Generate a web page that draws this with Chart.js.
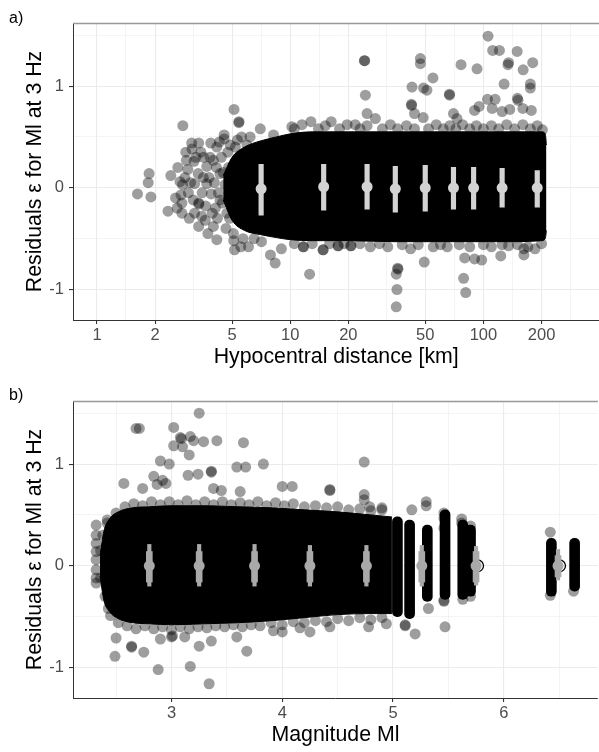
<!DOCTYPE html>
<html>
<head>
<meta charset="utf-8">
<script src="https://cdn.jsdelivr.net/npm/chart.js@4.4.1/dist/chart.umd.min.js"></script>
<style>
  body { margin: 0; background: #fff; font-family: "Liberation Sans", Arial, sans-serif; }
  #wrap { position: relative; width: 599px; height: 752px; overflow: hidden; }
  canvas { position: absolute; left: 0; }
  .tag { position: absolute; left: 9px; font-size: 16px; line-height: 1; color: #000; }
</style>
</head>
<body>
<div id="wrap">
  <canvas id="distChart" width="605" height="374" style="top:0"></canvas>
  <canvas id="magChart" width="605" height="374" style="top:378px"></canvas>
  <div class="tag" style="top:10px">a)</div>
  <div class="tag" style="top:387px">b)</div>
</div>
<script>
// residual axis (shared)
const resTicks = [-1, 0, 1];
const resMinor = [-0.5, 0.5, 1.5];

// ---- panel a: hypocentral distance [km] ----
const distTicks = [1, 2, 5, 10, 20, 50, 100, 200];
const distMinor = [1.41, 3.16, 7.07, 14.1, 31.6, 70.7, 141, 283];

// dense core of the cloud (upper / lower edge)
const distCloudX  = [4.5, 5.0, 5.8, 7.0, 8.5, 10, 13, 20, 35, 60, 100, 150, 200, 209, 212];
const distCloudHi = [0.12, 0.3, 0.4, 0.46, 0.5, 0.53, 0.55, 0.55, 0.55, 0.55, 0.55, 0.55, 0.55, 0.53, 0.42];
const distCloudLo = [-0.12, -0.32, -0.42, -0.46, -0.49, -0.51, -0.52, -0.52, -0.53, -0.53, -0.53, -0.53, -0.52, -0.5, -0.42];

// single records around the core
const distPoints = [
  [1.62, -0.06], [1.86, 0.14], [1.84, 0.05], [1.90, -0.09], [2.41, 0.12], [2.33, -0.23], [2.78, 0.61],
  [3.09, 0.44], [3.36, 0.44], [3.88, 0.44], [4.17, 0.40], [4.55, 0.52], [4.55, 0.48], [4.89, 0.42],
  [5.33, 0.47], [5.97, 0.42], [2.88, 0.35], [3.18, 0.26], [2.90, 0.27], [3.56, 0.30], [3.70, 0.21],
  [3.34, 0.14], [2.69, 0.06], [2.77, 0.03], [2.97, -0.05], [2.72, -0.07], [2.75, -0.15], [3.15, -0.12],
  [3.36, -0.15], [3.37, -0.16], [3.20, -0.25], [2.75, -0.25], [3.63, -0.32], [3.36, -0.38], [4.00, -0.38],
  [4.17, -0.51], [5.08, -0.45], [5.55, -0.58], [6.08, -0.58], [5.15, -0.61], [3.90, -0.06], [4.33, 0.14],
  [4.00, 0.27], [4.33, -0.12], [4.70, -0.25], [3.70, 0.04], [3.20, 0.04], [4.60, 0.03], [5.08, -0.09],
  [2.60, -0.20], [2.95, 0.18], [3.50, -0.05], [3.80, 0.10], [4.10, -0.20], [4.40, 0.30], [4.20, -0.30],
  [3.00, -0.30], [3.45, 0.35], [4.80, 0.20], [4.90, -0.15], [2.85, 0.10],
  [3.05, 0.05], [3.25, 0.30], [3.55, 0.10], [3.65, -0.18], [3.85, 0.30], [3.95, -0.25], [4.05, 0.05],
  [4.15, 0.20], [4.25, -0.05], [4.45, -0.15], [4.50, 0.15], [4.65, -0.40], [4.75, 0.35], [4.85, -0.30],
  [3.48, -0.28], [3.10, 0.38], [2.62, 0.20], [2.55, -0.10], [3.75, -0.45], [4.30, 0.45], [5.20, 0.40],
  [5.10, -0.52], [5.60, 0.50], [5.70, -0.50],
  [5.12, 0.77], [5.42, 0.64], [5.43, 0.65], [7.0, 0.58], [10.2, 0.60], [8.2, 0.52], [6.2, 0.50],
  [8.36, -0.74], [7.9, -0.66], [9.0, -0.60], [7.1, -0.53], [6.5, -0.50], [12.6, -0.85],
  [105.7, 1.49], [111.7, 1.35], [121, 1.35], [149.5, 1.34], [135, 1.23], [134, 1.21], [160.6, 1.16],
  [180, 1.23], [92.7, 1.17], [76.6, 1.21], [47.2, 1.27], [47.2, 1.22], [24.2, 1.25], [24.3, 1.25],
  [54.8, 1.08], [42.7, 0.99], [49, 0.98], [51, 0.96], [66.7, 0.92], [66.8, 0.91], [24.5, 0.91],
  [25, 0.73], [42.4, 0.82], [42.5, 0.81], [44, 0.73], [105, 0.87], [115, 0.87], [111, 0.78],
  [128, 1.02], [150, 0.88], [151, 0.86], [175, 1.02], [175, 0.98], [95, 0.80], [90, 0.76],
  [125, 0.75], [137, 0.77], [160, 0.78], [177, 0.76], [70, 0.73], [73, 0.68],
  [35.4, -0.85], [35.7, -1.0], [35.4, -1.17], [36, -0.79], [36.1, -0.80], [49.4, -0.73], [79, -0.89],
  [81, -1.03], [90, -0.70], [98, -0.71], [123, -0.67], [80, -0.69], [162, -0.60], [162, -0.66],
  [11.7, -0.58], [14.8, -0.61], [17.7, -0.57], [20.6, -0.57]
];
const distEdge = [
  [10.5, 0.58], [11.5, 0.62], [12.8, 0.65], [14, 0.58], [15.2, 0.61], [16.3, 0.65], [18, 0.58],
  [19.7, 0.62], [21.7, 0.62], [23, 0.58], [25, 0.61], [27.6, 0.68], [30, 0.58], [33, 0.62], [36, 0.58],
  [40, 0.61], [44, 0.58], [48.8, 0.69], [52, 0.58], [57, 0.62], [62, 0.58], [67, 0.61], [72, 0.58],
  [78, 0.62], [85, 0.58], [92, 0.61], [100, 0.58], [110, 0.61], [120, 0.58], [132, 0.62], [145, 0.58],
  [160, 0.62], [175, 0.58], [190, 0.61], [202, 0.57],
  [10.5, -0.55], [11.7, -0.58], [13, -0.55], [14.8, -0.61], [16, -0.55], [17.7, -0.57], [19, -0.55],
  [20.6, -0.57], [23, -0.55], [26, -0.58], [29, -0.55], [32, -0.58], [38, -0.56], [42, -0.60],
  [46, -0.56], [55, -0.58], [60, -0.56], [65, -0.58], [75, -0.56], [85, -0.58], [100, -0.56],
  [110, -0.58], [125, -0.56], [135, -0.57], [150, -0.56], [170, -0.58], [185, -0.60], [200, -0.55]
];

// binned median and interval
const distBinX   = [7.07, 14.9, 25, 35, 50, 70, 89, 125, 190];
const distBinMed = [-0.01, 0.01, 0.01, -0.01, 0, 0, 0, 0, 0];
const distBinLo  = [-0.27, -0.22, -0.21, -0.24, -0.23, -0.21, -0.21, -0.19, -0.19];
const distBinHi  = [0.23, 0.23, 0.23, 0.21, 0.22, 0.20, 0.20, 0.19, 0.17];

// ---- panel b: magnitude Ml ----
const magTicks = [3, 4, 5, 6];
const magMinor = [2.5, 3.5, 4.5, 5.5, 6.5];

const magCloudX  = [2.355, 2.39, 2.44, 2.52, 2.65, 2.8, 3.0, 3.3, 3.6, 3.9, 4.2, 4.5, 4.8, 4.99];
const magCloudHi = [0.1, 0.34, 0.46, 0.53, 0.57, 0.58, 0.59, 0.59, 0.58, 0.57, 0.55, 0.53, 0.5, 0.48];
const magCloudLo = [-0.1, -0.34, -0.45, -0.52, -0.56, -0.57, -0.58, -0.57, -0.56, -0.54, -0.51, -0.48, -0.47, -0.47];

// magnitude columns above 5
const magColX  = [5.04, 5.15, 5.31, 5.47, 5.63, 5.70, 6.43, 6.64];
const magColLo = [-0.50, -0.52, -0.35, -0.33, -0.33, -0.30, -0.30, -0.25];
const magColHi = [0.48, 0.45, 0.40, 0.55, 0.45, 0.40, 0.27, 0.27];

const magPoints = [
  [3.25, 1.50], [2.68, 1.35], [2.71, 1.35], [3.02, 1.36], [3.08, 1.26], [3.09, 1.25], [3.17, 1.27],
  [3.20, 1.23], [3.29, 1.22], [3.41, 1.23], [3.02, 1.18], [3.10, 1.17], [3.16, 1.09], [3.65, 1.21],
  [2.90, 1.03], [2.98, 1.00], [3.24, 0.90], [3.15, 0.89], [3.36, 0.93], [3.36, 0.92], [3.59, 0.97],
  [3.67, 0.97], [3.83, 1.00], [2.57, 0.81], [2.84, 0.88], [2.87, 0.80], [2.92, 0.84], [2.95, 0.81],
  [2.74, 0.76], [3.38, 0.76], [3.45, 0.74], [3.62, 0.73], [4.00, 0.78], [4.09, 0.78], [4.74, 1.02],
  [4.43, 0.75], [4.43, 0.74], [4.74, 0.70], [4.74, 0.65], [4.79, 0.58], [4.90, 0.57], [5.30, 0.63],
  [5.30, 0.59], [5.17, 0.55], [5.46, 0.52], [5.46, 0.47], [5.46, 0.37], [5.62, 0.46], [5.62, 0.42],
  [5.70, 0.39], [6.42, 0.33],
  [2.32, 0.40], [2.32, 0.30], [2.32, 0.22], [2.32, 0.14], [2.32, 0.06], [2.32, -0.04], [2.32, -0.12],
  [2.32, -0.17], [2.42, 0.42],
  [2.49, -0.89], [2.50, -0.71], [2.64, -0.79], [2.64, -0.80], [2.75, -0.85], [2.88, -1.02], [3.17, -0.99],
  [3.34, -1.16], [3.25, -0.79], [3.36, -0.74], [3.68, -0.84], [3.00, -0.70], [3.01, -0.69], [2.90, -0.72],
  [3.12, -0.70], [3.59, -0.70], [3.92, -0.64], [4.00, -0.65], [5.47, -0.60], [5.20, -0.67], [5.11, -0.59],
  [5.11, -0.58], [4.78, -0.60], [4.43, -0.60], [4.25, -0.65], [4.16, -0.61], [4.94, -0.57], [5.32, -0.42],
  [5.46, -0.35], [5.46, -0.34], [5.63, -0.33], [5.70, -0.30], [6.42, -0.29], [6.63, -0.25]
];
const magEdge = [
  [2.38, 0.30], [2.40, -0.30], [2.36, 0.15], [2.36, -0.12], [2.42, 0.45], [2.43, -0.42],
  [2.50, 0.52], [2.58, 0.58], [2.66, 0.61], [2.74, 0.59], [2.82, 0.63], [2.90, 0.60], [2.98, 0.63],
  [3.06, 0.60], [3.14, 0.64], [3.22, 0.60], [3.30, 0.63], [3.38, 0.60], [3.46, 0.63], [3.54, 0.60],
  [3.62, 0.62], [3.70, 0.60], [3.78, 0.63], [3.86, 0.59], [3.94, 0.62], [4.02, 0.59], [4.10, 0.61],
  [4.20, 0.58], [4.30, 0.59], [4.40, 0.57], [4.50, 0.58], [4.60, 0.55], [4.70, 0.56], [4.80, 0.54],
  [4.90, 0.55],
  [2.45, -0.49], [2.52, -0.56], [2.60, -0.59], [2.68, -0.62], [2.76, -0.59], [2.84, -0.62], [2.92, -0.60],
  [3.00, -0.63], [3.08, -0.60], [3.16, -0.62], [3.24, -0.60], [3.32, -0.61], [3.40, -0.59], [3.48, -0.60],
  [3.56, -0.58], [3.64, -0.60], [3.72, -0.58], [3.80, -0.59], [3.90, -0.56], [4.00, -0.58], [4.10, -0.55],
  [4.20, -0.56], [4.30, -0.54], [4.40, -0.55], [4.50, -0.52], [4.60, -0.54], [4.70, -0.51], [4.80, -0.53],
  [4.90, -0.51]
];
const magRing = [[5.765, 0], [6.505, 0]];

const magBinX     = [2.80, 3.25, 3.75, 4.25, 4.76, 5.26, 5.75, 6.49];
const magBinMed   = [0, 0, 0, 0, 0, 0, 0, 0];
const magThinLo   = [-0.20, -0.20, -0.20, -0.20, -0.20, -0.20, -0.19, -0.14];
const magThinHi   = [0.21, 0.21, 0.21, 0.20, 0.20, 0.20, 0.19, 0.16];
const magThickLo  = [-0.16, -0.16, -0.16, -0.16, -0.16, -0.16, -0.16, -0.11];
const magThickHi  = [0.14, 0.14, 0.14, 0.14, 0.14, 0.14, 0.14, 0.10];

// ---- helpers ----
const pts = arr => arr.map(p => ({ x: p[0], y: p[1] }));
const zip = (xs, ys) => xs.map((x, i) => ({ x: x, y: ys[i] }));
const ranges = (xs, lo, hi) => xs.map((x, i) => ({ x: x, y: [lo[i], hi[i]] }));

const FONT = '"Liberation Sans", Arial, sans-serif';
const POINT = 'rgba(0,0,0,0.38)';

function gridOpts(major) {
  return {
    offset: false,
    color: '#ebebeb',
    lineWidth: c => (c.tick && major.includes(c.tick.value)) ? 1.1 : 0.55,
    tickLength: 4,
    tickColor: c => (c.tick && major.includes(c.tick.value)) ? '#333' : 'rgba(0,0,0,0)'
  };
}

function xAxis(type, min, max, major, minor, title) {
  const all = major.concat(minor).sort((a, b) => a - b);
  return {
    type: type, min: min, max: max, offset: false,
    afterFit: s => { s.height = 54; },
    afterBuildTicks: s => { s.ticks = all.map(v => ({ value: v })); },
    ticks: {
      autoSkip: false, maxRotation: 0, padding: 2, color: '#4d4d4d',
      font: { family: FONT, size: 16.5 },
      callback: v => major.includes(v) ? String(v) : ''
    },
    grid: gridOpts(major),
    border: { color: '#333', width: 1 },
    title: { display: true, text: title, color: '#000', font: { family: FONT, size: 21.3 }, padding: { top: 0, bottom: 4 } }
  };
}

function yAxis() {
  const all = resTicks.concat(resMinor).sort((a, b) => a - b);
  return {
    type: 'linear', min: -1.30, max: 1.62, offset: false,
    afterFit: s => { s.width = 73; },
    afterBuildTicks: s => { s.ticks = all.map(v => ({ value: v })); },
    ticks: {
      autoSkip: false, padding: 5, color: '#4d4d4d',
      font: { family: FONT, size: 16.5 },
      callback: v => resTicks.includes(v) ? String(v) : ''
    },
    grid: gridOpts(resTicks),
    border: { color: '#333', width: 1 },
    title: { display: true, text: 'Residuals \u03b5 for Ml at 3 Hz', color: '#000', font: { family: FONT, size: 21.3 }, padding: { top: 22, bottom: 0 } }
  };
}

// grey frame line along the top of the panel
const topFrame = {
  id: 'topFrame',
  afterDatasetsDraw(chart) {
    const { ctx, chartArea: a } = chart;
    ctx.save();
    ctx.strokeStyle = '#999';
    ctx.lineWidth = 1.5;
    ctx.beginPath();
    ctx.moveTo(a.left, a.top + 0.5);
    ctx.lineTo(a.right, a.top + 0.5);
    ctx.stroke();
    ctx.restore();
  }
};

function cloud(xs, hi, lo) {
  return [
    { type: 'line', data: zip(xs, hi), fill: '+1', backgroundColor: '#000', borderColor: '#000', borderWidth: 1,
      pointRadius: 0, cubicInterpolationMode: 'monotone', order: 6 },
    { type: 'line', data: zip(xs, lo), fill: false, borderColor: '#000', borderWidth: 1,
      pointRadius: 0, cubicInterpolationMode: 'monotone', order: 6 }
  ];
}

const common = {
  responsive: false,
  animation: false,
  events: [],
  layout: { padding: { top: 23, right: 0, left: 0, bottom: 0 } },
  plugins: { legend: { display: false }, tooltip: { enabled: false } }
};

new Chart(document.getElementById('distChart'), {
  type: 'scatter',
  data: {
    datasets: [
      ...cloud(distCloudX, distCloudHi, distCloudLo),
      { data: pts(distPoints.concat(distEdge)), backgroundColor: POINT, borderWidth: 0, pointRadius: 5.5, order: 4 },
      { type: 'bar', data: ranges(distBinX, distBinLo, distBinHi), backgroundColor: '#d3d3d3',
        barThickness: 4.5, grouped: false, order: 2 },
      { data: zip(distBinX, distBinMed), backgroundColor: '#d3d3d3', borderWidth: 0, pointRadius: 5.5, order: 1 }
    ]
  },
  options: Object.assign({}, common, {
    scales: {
      x: xAxis('logarithmic', 0.751, 399, distTicks, distMinor, 'Hypocentral distance [km]'),
      y: yAxis()
    }
  }),
  plugins: [topFrame]
});

new Chart(document.getElementById('magChart'), {
  type: 'scatter',
  data: {
    datasets: [
      ...cloud(magCloudX, magCloudHi, magCloudLo),
      { type: 'bar', data: ranges(magColX, magColLo, magColHi), backgroundColor: '#000',
        barThickness: 10, borderRadius: 5, borderSkipped: false, grouped: false, order: 5 },
      { data: pts(magPoints.concat(magEdge)), backgroundColor: POINT, borderWidth: 0, pointRadius: 5.5, order: 4 },
      { data: pts(magRing), backgroundColor: 'rgba(0,0,0,0)', borderColor: '#000', borderWidth: 1.3, pointRadius: 5.8, order: 3 },
      { type: 'bar', data: ranges(magBinX, magThinLo, magThinHi), backgroundColor: '#a9a9a9',
        barThickness: 3.5, grouped: false, order: 2 },
      { type: 'bar', data: ranges(magBinX, magThickLo, magThickHi), backgroundColor: '#a9a9a9',
        barThickness: 6, grouped: false, order: 2 },
      { data: zip(magBinX, magBinMed), backgroundColor: '#a9a9a9', borderWidth: 0, pointRadius: 5.5, order: 1 }
    ]
  },
  options: Object.assign({}, common, {
    scales: {
      x: xAxis('linear', 2.111, 6.85, magTicks, magMinor, 'Magnitude Ml'),
      y: yAxis()
    }
  }),
  plugins: [topFrame]
});
</script>
</body>
</html>
